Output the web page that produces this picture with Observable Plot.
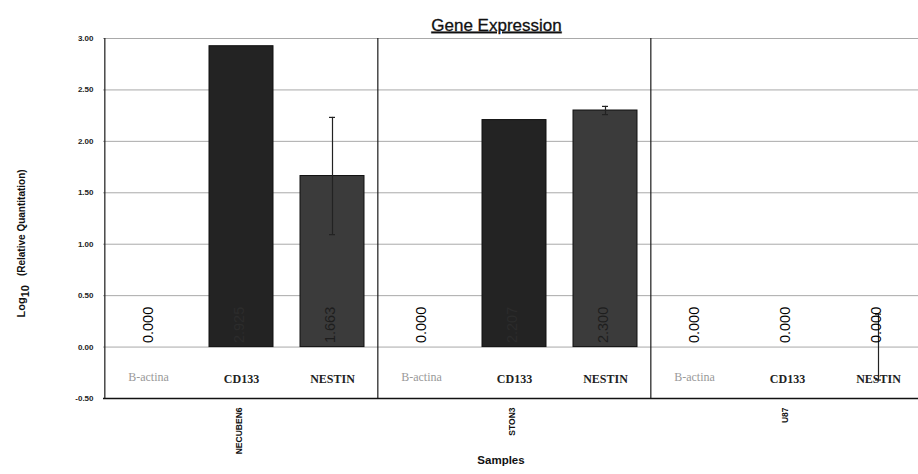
<!DOCTYPE html>
<html>
<head>
<meta charset="utf-8">
<script src="https://cdn.jsdelivr.net/npm/d3@7"></script>
<script src="https://cdn.jsdelivr.net/npm/@observablehq/plot@0.6"></script>
<style>
  html, body { margin: 0; padding: 0; background: #fff; overflow: hidden; }
  #chart svg { overflow: visible; }
</style>
</head>
<body>
<div id="chart"></div>
<script>
const samples = ["NECUBEN6", "STON3", "U87"];
const genes = ["B-actina", "CD133", "NESTIN"];
const necuben6Values = [0.000, 2.925, 1.663];
const ston3Values = [0.000, 2.207, 2.300];
const u87Values = [0.000, 0.000, 0.000];
const necuben6Errors = [0, 0, 0.57];
const ston3Errors = [0, 0, 0.04];
const u87Errors = [0, 0, 0.32];
const yTicks = [-0.5, 0, 0.5, 1.0, 1.5, 2.0, 2.5, 3.0];
const titleText = "Gene Expression";
const xLabel = "Samples";
const yLabel = "Log10 (Relative Quantitation)";

const valuesBySample = [necuben6Values, ston3Values, u87Values];
const errorsBySample = [necuben6Errors, ston3Errors, u87Errors];
const rows = [];
samples.forEach((s, i) => genes.forEach((g, j) => rows.push({
  sample: s, gene: g, key: s + "|" + g,
  value: valuesBySample[i][j], error: errorsBySample[i][j],
  label: valuesBySample[i][j].toFixed(3)
})));
const keys = rows.map(d => d.key);

const W = 918, H = 474, mL = 103, mR = -7, mT = 38, mB = 76;
const step = (W - mR - mL) / keys.length;
const barFill = {"B-actina": "#222", "CD133": "#232323", "NESTIN": "#3b3b3b"};
const labelFill = d => d.value <= 0 ? "#000" : (d.gene === "CD133" ? "#2c2c2c" : "#1e1e1e");
const errRows = rows.filter(d => d.error > 0);
const font = "'Liberation Sans', Arial, sans-serif";
const serif = "'Liberation Serif', 'Times New Roman', serif";

const chart = Plot.plot({
  width: W, height: H,
  marginLeft: mL, marginRight: mR, marginTop: mT, marginBottom: mB,
  style: {fontFamily: font, background: "#fff", color: "#000"},
  x: {type: "band", domain: keys, paddingInner: 0.3, paddingOuter: 0.15, axis: null},
  y: {domain: [-0.5, 3], axis: null},
  marks: [
    Plot.gridY(yTicks, {stroke: "#a9a9a9", strokeOpacity: 1, strokeWidth: 1}),
    Plot.barY(rows.filter(d => d.value > 0), {x: "key", y: "value", fill: d => barFill[d.gene], stroke: "#111", strokeWidth: 1}),
    Plot.ruleX(rows.filter(d => d.gene === genes[0]), {x: "key", dx: -step / 2, stroke: "#1a1a1a", strokeWidth: 1.2}),
    Plot.ruleY([-0.5], {stroke: "#111", strokeWidth: 1.5}),
    Plot.axisY(yTicks, {tickSize: 0, tickPadding: 10, tickFormat: d => d.toFixed(2), fontSize: 8, fontWeight: "bold", label: null, fill: "#222"}),
    Plot.ruleX(errRows, {x: "key", y1: d => d.value - d.error, y2: d => d.value + d.error, stroke: "#222", strokeWidth: 1.2}),
    Plot.tickY(errRows, {x: "key", y: d => d.value + d.error, insetLeft: 29, insetRight: 29, stroke: "#222", strokeWidth: 1.2}),
    Plot.tickY(errRows, {x: "key", y: d => d.value - d.error, insetLeft: 29, insetRight: 29, stroke: "#222", strokeWidth: 1.2}),
    Plot.text(rows, {x: "key", y: () => 0, text: "label", rotate: -90, textAnchor: "start", dx: -2, dy: -4, fontSize: 14.5, fill: labelFill, fontFamily: font}),
    Plot.text(rows.filter(d => d.gene === "B-actina"), {x: "key", text: "gene", frameAnchor: "bottom", dx: -2, dy: -18, fontSize: 12, fontFamily: serif, fill: "#999"}),
    Plot.text(rows.filter(d => d.gene !== "B-actina"), {x: "key", text: "gene", frameAnchor: "bottom", dy: -15.5, fontSize: 12, fontFamily: serif, fontWeight: "bold", fill: "#222"}),
    Plot.text(rows.filter(d => d.gene === "CD133"), {x: "key", text: "sample", frameAnchor: "bottom", rotate: -90, textAnchor: "end", dy: 9, fontSize: 8.5, fontWeight: "bold", fill: "#111"}),
    Plot.text([titleText], {frameAnchor: "top", dx: -18, dy: -20, fontSize: 17, fill: "#111", stroke: "#111", strokeWidth: 0.3}),
    Plot.text([xLabel], {frameAnchor: "bottom", dx: -13.5, dy: 65, fontSize: 11.5, fontWeight: "bold", fill: "#111"}),
    Plot.text([yLabel], {frameAnchor: "left", rotate: -90, textAnchor: "start", dx: -82, dy: 99, fontSize: 10, fontWeight: "bold", fill: "#111"})
  ]
});
document.getElementById("chart").appendChild(chart);

// styling: underline title, subscript in y label
d3.select(chart).selectAll("text").each(function() {
  const t = d3.select(this);
  const s = t.text();
  if (s === titleText) {
    t.style("text-decoration", "underline");
  } else if (s === yLabel) {
    t.text(null);
    t.append("tspan").attr("font-size", "11px").text("Log");
    t.append("tspan").attr("dy", "0.4em").attr("font-size", "11px").text("10");
    t.append("tspan").attr("dy", "-0.4em").attr("dx", "9").attr("font-size", "10px").text("(Relative Quantitation)");
  }
});
</script>
</body>
</html>
